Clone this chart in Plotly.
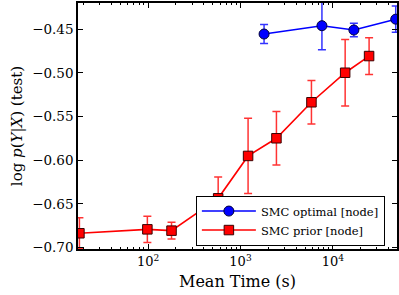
import plotly.graph_objects as go

time_prior = [18, 98, 179, 573, 1208, 2450, 5866, 13600, 24700]
ll_prior = [-0.6835, -0.679, -0.6805, -0.6435, -0.595, -0.5748, -0.5336, -0.4998, -0.4807]
err_prior = [0.0178, 0.015, 0.0095, 0.0245, 0.043, 0.0305, 0.025, 0.038, 0.021]

time_opt = [1800, 7620, 16900, 48000]
ll_opt = [-0.4555, -0.4460, -0.4509, -0.4385]
err_opt = [0.0109, 0.0275, 0.0077, 0.015]

x_tickvals = [100, 1000, 10000]
x_ticktext = ["10<sup>2</sup>", "10<sup>3</sup>", "10<sup>4</sup>"]
y_tickvals = [-0.45, -0.50, -0.55, -0.60, -0.65, -0.70]
y_ticktext = ["\u22120.45", "\u22120.50", "\u22120.55", "\u22120.60", "\u22120.65", "\u22120.70"]

serif = "DejaVu Serif"

fig = go.Figure()
fig.add_trace(go.Scatter(
    x=time_opt, y=ll_opt, mode="lines+markers", name="SMC optimal [node]",
    line=dict(color="#0000ff", width=1.6),
    marker=dict(symbol="circle", size=10, color="#0000ff", line=dict(color="#00003a", width=1)),
    error_y=dict(type="data", array=err_opt, color="rgba(0,0,255,0.8)", thickness=1.5, width=4),
    cliponaxis=True,
))
fig.add_trace(go.Scatter(
    x=time_prior, y=ll_prior, mode="lines+markers", name="SMC prior [node]",
    line=dict(color="#ff0000", width=1.6),
    marker=dict(symbol="square", size=9.5, color="#ff0000", line=dict(color="#3a0000", width=1)),
    error_y=dict(type="data", array=err_prior, color="rgba(255,0,0,0.8)", thickness=1.5, width=4),
    cliponaxis=True,
))

fig.update_layout(
    width=399, height=295,
    margin=dict(l=78, r=2, t=3, b=46, autoexpand=False),
    paper_bgcolor="white", plot_bgcolor="white",
    font=dict(family=serif, color="black", size=13),
    showlegend=True,
    legend=dict(
        x=0.962, y=0.014, xanchor="right", yanchor="bottom",
        bgcolor="white", bordercolor="black", borderwidth=1,
        font=dict(family=serif, size=11.5),
        tracegroupgap=0, itemwidth=54,
    ),
)
fig.update_xaxes(
    type="log", range=[1.24, 4.695], automargin=False,
    tickvals=x_tickvals, ticktext=x_ticktext,
    ticks="inside", ticklen=5, tickwidth=1, tickcolor="black",
    minor=dict(ticks="inside", ticklen=2.5, tickwidth=0.8, tickcolor="black", dtick="D1"),
    showline=True, linecolor="black", linewidth=1.5, mirror="allticks",
    showgrid=False, zeroline=False,
    title=dict(text="Mean Time (s)", font=dict(family=serif, size=16), standoff=7),
    tickfont=dict(family=serif, size=13),
)
fig.update_yaxes(
    range=[-0.7015, -0.42], automargin=False,
    tickvals=y_tickvals, ticktext=y_ticktext,
    ticks="inside", ticklen=5, tickwidth=1, tickcolor="black",
    showline=True, linecolor="black", linewidth=1.5, mirror="allticks",
    showgrid=False, zeroline=False,
    title=dict(text="log <i>p</i>(<i>Y</i>|<i>X</i>) (test)", font=dict(family=serif, size=15), standoff=6),
    tickfont=dict(family=serif, size=13.5),
)

fig.write_html(
    "out.html",
    config={"displayModeBar": False},
    post_script="document.body.style.margin='0';document.body.style.overflow='hidden';",
)
